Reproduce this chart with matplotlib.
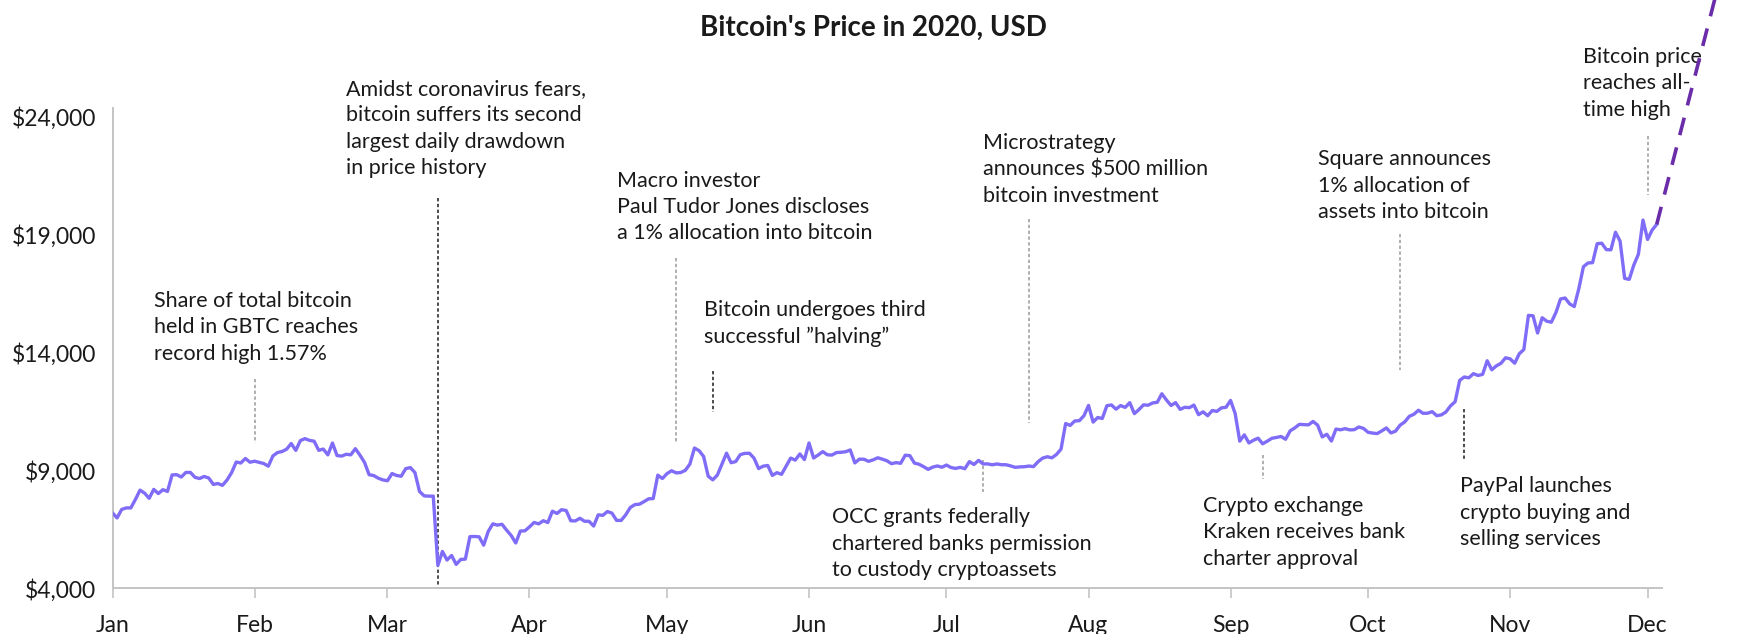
"""Bitcoin's price in 2020 with annotated events."""
import matplotlib
import numpy as np
import pandas as pd

matplotlib.use("Agg")
import matplotlib.pyplot as plt
import matplotlib.dates as mdates
from matplotlib.ticker import FuncFormatter

plt.rcParams["font.family"] = ["Lato", "DejaVu Sans"]

# daily close, USD
JAN = [7200, 6985, 7345, 7410, 7411, 7769, 8164, 8038, 7818, 8197, 8020, 8184, 8110, 8811, 8821, 8720,
       8914, 8916, 8707, 8658, 8745, 8680, 8407, 8445, 8368, 8597, 8910, 9358, 9316, 9508, 9350]
FEB = [9393, 9345, 9294, 9181, 9614, 9760, 9803, 9903, 10143, 9852, 10269, 10350, 10276, 10241, 9855,
       9907, 9662, 10163, 9633, 9608, 9686, 9663, 9924, 9650, 9341, 8820, 8784, 8672, 8599]
MAR = [8562, 8869, 8787, 8755, 9078, 9122, 8909, 8108, 7923, 7909, 7911, 4970, 5563, 5200, 5392, 5014,
       5225, 5238, 6191, 6198, 6185, 5830, 6416, 6734, 6681, 6716, 6469, 6242, 5922, 6429, 6438]
APR = [6606, 6793, 6733, 6867, 6791, 7271, 7176, 7335, 7302, 6865, 6859, 6971, 6845, 6842, 6642, 7116,
       7096, 7257, 7189, 6881, 6880, 7117, 7429, 7550, 7569, 7679, 7795, 7807, 8801, 8658]
MAY = [8864, 8988, 8897, 8912, 9004, 9269, 9951, 9842, 9593, 8757, 8601, 8805, 9270, 9733, 9328, 9377,
       9671, 9726, 9729, 9523, 9081, 9182, 9210, 8790, 8906, 8835, 9181, 9525, 9439, 9700, 9461]
JUN = [10167, 9529, 9656, 9800, 9665, 9653, 9759, 9771, 9795, 9870, 9321, 9480, 9475, 9386, 9450, 9538,
       9480, 9411, 9288, 9332, 9303, 9648, 9629, 9313, 9264, 9162, 9045, 9143, 9190, 9137]
JUL = [9228, 9123, 9087, 9132, 9073, 9375, 9252, 9428, 9277, 9278, 9240, 9276, 9243, 9243, 9192, 9132,
       9151, 9159, 9186, 9164, 9374, 9525, 9581, 9536, 9677, 9905, 10990, 10912, 11100, 11112, 11323]
AUG = [11759, 11053, 11246, 11205, 11747, 11779, 11601, 11754, 11675, 11878, 11411, 11584, 11784, 11768,
       11865, 11892, 12254, 11991, 11758, 11878, 11592, 11681, 11664, 11774, 11367, 11488, 11323, 11542,
       11507, 11655, 11680]
SEP = [11971, 11414, 10245, 10511, 10169, 10281, 10370, 10131, 10242, 10364, 10400, 10442, 10324, 10681,
       10804, 10956, 10943, 10934, 11080, 10921, 10424, 10535, 10247, 10756, 10725, 10774, 10721, 10731,
       10844, 10784]
OCT = [10620, 10585, 10565, 10680, 10804, 10592, 10669, 10923, 11060, 11296, 11384, 11555, 11425, 11429,
       11495, 11323, 11359, 11483, 11742, 11916, 12823, 12965, 12931, 13108, 13031, 13076, 13654, 13272,
       13437, 13546, 13780]
NOV = [13737, 13550, 13950, 14133, 15579, 15565, 14833, 15479, 15332, 15290, 15701, 16276, 16317, 16068,
       15955, 16716, 17645, 17804, 17817, 18621, 18642, 18370, 18364, 19107, 18732, 17150, 17108, 17718,
       18177, 19625]
DEC = [18802, 19201, 19445]

# dashed extension beyond the last close
TREND_DATES = ["2020-12-03", "2020-12-17"]
TREND_VALUES = [19445, 30000]

Y_TICKS = [4000, 9000, 14000, 19000, 24000]

# (text, text date, text top value, line date, line from, line to, dark line?)
EVENTS = [
    ("Share of total bitcoin\nheld in GBTC reaches\nrecord high 1.57%",
     "2020-01-10", 16620, "2020-02-01", 12900, 10150, False),
    ("Amidst coronavirus fears,\nbitcoin suffers its second\nlargest daily drawdown\nin price history",
     "2020-02-21", 25620, "2020-03-12", 20550, 4150, True),
    ("Macro investor\nPaul Tudor Jones discloses\na 1% allocation into bitcoin",
     "2020-04-20", 21720, "2020-05-03", 18000, 10200, False),
    ("Bitcoin undergoes third\nsuccessful \u201dhalving\u201d",
     "2020-05-09", 16220, "2020-05-11", 13220, 11470, True),
    ("Microstrategy\nannounces $500 million\nbitcoin investment",
     "2020-07-09", 23330, "2020-07-19", 19650, 11000, False),
    ("Square announces\n1% allocation of\nassets into bitcoin",
     "2020-09-20", 22630, "2020-10-08", 19035, 13270, False),
    ("Bitcoin price\nreaches all-\ntime high",
     "2020-11-17", 26970, "2020-12-01", 23200, 20690, False),
    ("OCC grants federally\nchartered banks permission\nto custody cryptoassets",
     "2020-06-06", 7430, "2020-07-09", 9440, 8070, False),
    ("Crypto exchange\nKraken receives bank\ncharter approval",
     "2020-08-26", 7920, "2020-09-08", 9670, 8630, False),
    ("PayPal launches\ncrypto buying and\nselling services",
     "2020-10-21", 8760, "2020-10-22", 11610, 9480, True),
]

prices = JAN + FEB + MAR + APR + MAY + JUN + JUL + AUG + SEP + OCT + NOV + DEC
dates = pd.date_range("2020-01-01", periods=len(prices), freq="D")

fig = plt.figure(figsize=(17.47, 6.34), dpi=100)
ax = fig.add_axes([0.0644, 0.0721, 0.8871, 0.7583])

ax.plot(dates, prices, color="#7f6cf7", lw=2.4, solid_joinstyle="round", zorder=3)
ax.plot(pd.to_datetime(TREND_DATES), TREND_VALUES, color="#6a2ca8", lw=2.6,
        dashes=(5, 3.5), clip_on=False, zorder=4)

for text, tx, ty, lx, l0, l1, dark in EVENTS:
    ax.plot([pd.Timestamp(lx)] * 2, [l0, l1], color="#1a1a1a" if dark else "#9a9a9a",
            lw=1.1, dashes=(2.2, 1.6), clip_on=False, zorder=2)
    ax.text(pd.Timestamp(tx), ty, text, ha="left", va="top", fontsize=15.5,
            color="#1a1a1a", linespacing=1.4, clip_on=False)

ax.set_xlim(pd.Timestamp("2020-01-01"), pd.Timestamp("2020-12-04 05:00"))
ax.set_ylim(4000, 24400)
ax.set_yticks(Y_TICKS)
ax.yaxis.set_major_formatter(FuncFormatter(lambda v, _: f"${v:,.0f}"))
ax.xaxis.set_major_locator(mdates.MonthLocator())
ax.xaxis.set_major_formatter(mdates.DateFormatter("%b"))

for s in ("top", "right"):
    ax.spines[s].set_visible(False)
for s in ("left", "bottom"):
    ax.spines[s].set_color("#c4c4c4")
    ax.spines[s].set_linewidth(1.4)
ax.tick_params(axis="x", length=7, width=1.2, color="#c4c4c4", pad=12,
               labelsize=16.5, labelcolor="#1a1a1a")
ax.tick_params(axis="y", length=0, pad=12, labelsize=16.5, labelcolor="#1a1a1a")

fig.text(0.5, 0.956, "Bitcoin's Price in 2020, USD", ha="center", va="center",
         fontsize=20, fontweight="bold", color="#1a1a1a")

fig.savefig("out.png", dpi=100)
